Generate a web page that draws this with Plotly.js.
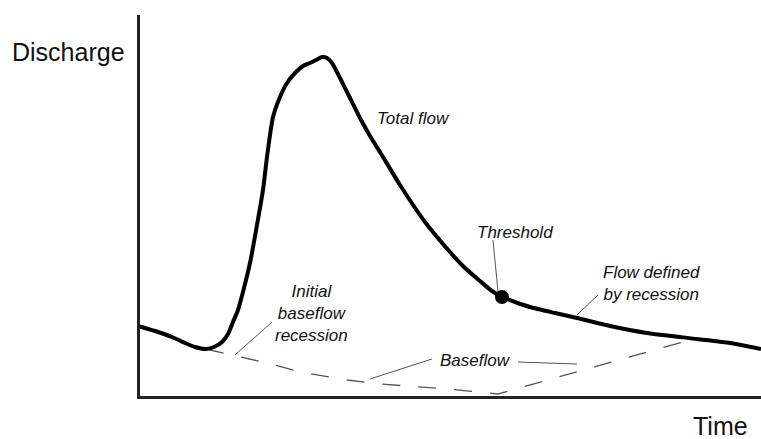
<!DOCTYPE html>
<html>
<head>
<meta charset="utf-8">
<script src="https://cdn.plot.ly/plotly-3.0.1.min.js"></script>
<style>html,body{margin:0;padding:0;background:#fff}#chart{width:761px;height:439px}</style>
</head>
<body>
<div id="chart"></div>
<script>
// Schematic hydrograph values (time units, discharge units)
const totalTime = [0,17,34,47,57,68,76,84,90,95,100,106,112,119,125,129,135,142,149,157,165,172,178,184,189,194,202,212,222,232,242,262,287,312,327,342,354,364,377,392,417,439,472,509,559,592,623];
const totalFlow = [72,67,61,55,51,49,51,56,64,76,88,110,135,173,208,241,281,301,315,325,332,335,338,341,340,335,320,300,280,262,246,213,176,146,130,117,107,101,96,91,85,80,72,65,59,55,49];
const baseTime = [68,95,129,162,209,242,309,360,559];
const baseFlow = [49,43,35,26,18,14,9,4,60];
const thresholdTime = [364];
const thresholdFlow = [101];
const labels = ["Total flow","Initial<br>baseflow<br>recession","Baseflow","Threshold","Flow defined<br>by recession"];

const italic = {family:'"Liberation Sans", Arial, sans-serif', size:17, color:'#111', style:'italic'};
const upright = {family:'"Liberation Sans", Arial, sans-serif', size:25, color:'#111'};
const leader = {color:'#555', width:1};

const data = [
  {x: baseTime, y: baseFlow, mode:'lines', line:{color:'#555', width:1.3, dash:'18px,18px'}, hoverinfo:'skip'},
  {x: totalTime, y: totalFlow, mode:'lines', line:{color:'#000', width:4, shape:'spline', smoothing:0.6}, hoverinfo:'skip'},
  {x: thresholdTime, y: thresholdFlow, mode:'markers', marker:{color:'#000', size:14}, hoverinfo:'skip'}
];

function seg(x0,y0,x1,y1){return {type:'line', xref:'x', yref:'y', x0:x0, y0:y0, x1:x1, y1:y1, line:leader, layer:'below'};}

const L = 140, B = 43;
const layout = {
  width:761, height:439,
  margin:{l:L, r:0, t:15, b:B},
  paper_bgcolor:'#fff', plot_bgcolor:'#fff',
  showlegend:false,
  xaxis:{range:[2,623], showline:true, linecolor:'#222', linewidth:3, showgrid:false, zeroline:false, showticklabels:false, ticks:'', fixedrange:true},
  yaxis:{range:[2,383], showline:true, linecolor:'#222', linewidth:3, showgrid:false, zeroline:false, showticklabels:false, ticks:'', fixedrange:true},
  shapes:[
    seg(97,43,134,76),
    seg(294,39,232,19),
    seg(380,36,439,34),
    seg(355,158,360,106),
    seg(460,103,439,83)
  ],
  annotations:[
    {text:labels[0], x:275, y:280, xref:'x', yref:'y', showarrow:false, font:italic},
    {text:labels[1], x:173, y:85, xref:'x', yref:'y', showarrow:false, font:italic},
    {text:labels[2], x:337, y:38, xref:'x', yref:'y', showarrow:false, font:italic},
    {text:labels[3], x:377, y:166, xref:'x', yref:'y', showarrow:false, font:italic},
    {text:labels[4], x:513, y:115, xref:'x', yref:'y', showarrow:false, font:italic},
    {text:'Discharge', x:(68-L)/(761-L), y:(439-B-52)/(439-15-B), xref:'paper', yref:'paper', xanchor:'center', yanchor:'middle', showarrow:false, font:upright},
    {text:'Time', x:(720-L)/(761-L), y:(439-B-426)/(439-15-B), xref:'paper', yref:'paper', xanchor:'center', yanchor:'middle', showarrow:false, font:upright}
  ]
};

Plotly.newPlot('chart', data, layout, {displayModeBar:false, staticPlot:true});
</script>
</body>
</html>
